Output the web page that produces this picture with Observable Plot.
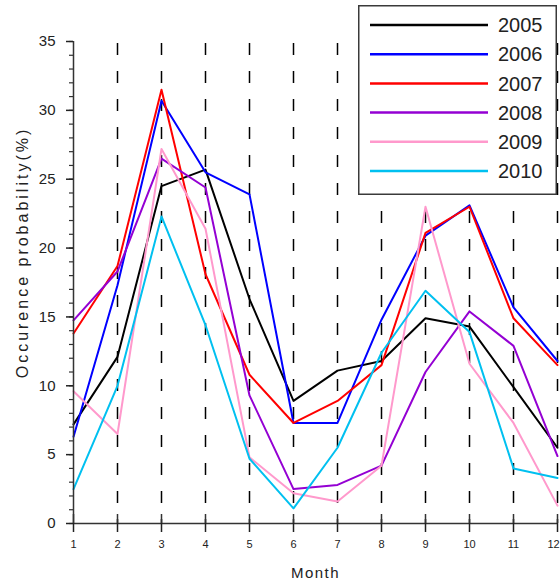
<!DOCTYPE html>
<html>
<head>
<meta charset="utf-8">
<script src="https://cdn.jsdelivr.net/npm/d3@7"></script>
<script src="https://cdn.jsdelivr.net/npm/@observablehq/plot@0.6"></script>
<style>
  body { margin: 0; background: #fff; font-family: "Liberation Sans", Arial, sans-serif; }
  #wrap { position: relative; width: 560px; height: 585px; }
  #legend { position: absolute; left: 358px; top: 5px; }
</style>
</head>
<body>
<div id="wrap"></div>
<script>
// ---- data ----
const months = [1, 2, 3, 4, 5, 6, 7, 8, 9, 10, 11, 12];
const years = ["2005", "2006", "2007", "2008", "2009", "2010"];
const colors = ["#000000", "#0000ff", "#ff0000", "#9400d3", "#ff99cc", "#00c0f0"];
const y2005 = [7.2, 12.1, 24.5, 25.7, 16.3, 8.9, 11.1, 11.8, 14.9, 14.3, 9.9, 5.5];
const y2006 = [6.3, 17.3, 30.7, 25.5, 23.9, 7.3, 7.3, 14.8, 20.9, 23.1, 15.7, 11.8];
const y2007 = [13.8, 18.7, 31.5, 18.1, 10.8, 7.3, 8.9, 11.5, 21.1, 23.0, 14.9, 11.5];
const y2008 = [14.75, 18.3, 26.5, 24.4, 9.3, 2.5, 2.8, 4.2, 11.0, 15.4, 12.9, 4.9];
const y2009 = [9.6, 6.5, 27.2, 21.4, 4.8, 2.2, 1.6, 4.2, 23.0, 11.6, 7.3, 1.3];
const y2010 = [2.5, 10.0, 22.3, 14.4, 4.7, 1.1, 5.5, 12.4, 16.9, 13.9, 4.0, 3.3];
const seriesValues = [y2005, y2006, y2007, y2008, y2009, y2010];
const yMajorTicks = [0, 5, 10, 15, 20, 25, 30, 35];
const yMinorTicks = d3.range(0, 36);
const xTitle = "Month";
const yTitle = "Occurence probability(%)";

const rows = years.flatMap((yr, i) => months.map((m, j) => ({year: yr, month: m, value: seriesValues[i][j]})));

const font = "Liberation Sans, Arial, sans-serif";
const chart = Plot.plot({
  width: 560,
  height: 585,
  marginLeft: 73,
  marginRight: 3,
  marginTop: 41,
  marginBottom: 62,
  x: {domain: [1, 12], axis: null},
  y: {domain: [0, 35], axis: null},
  color: {domain: years, range: colors},
  style: {fontFamily: font, background: "transparent", overflow: "visible"},
  marks: [
    Plot.ruleX(months.slice(1), {y1: 35, y2: 0, stroke: "#000", strokeWidth: 1.5, strokeDasharray: "12,16", strokeDashoffset: -2}),
    Plot.lineY(rows, {x: "month", y: "value", z: "year", stroke: "year", strokeWidth: 2}),
    Plot.ruleY([0], {stroke: "#333", strokeWidth: 1.5}),
    Plot.ruleX([1], {stroke: "#333", strokeWidth: 1.5}),
    Plot.ruleX(months, {y1: 0, y2: 0, insetTop: -9, insetBottom: 0, stroke: "#333", strokeWidth: 1.5}),
    Plot.axisX({ticks: months, tickSize: 9, tickPadding: 8, fontSize: 11, color: "#222", strokeWidth: 1.5, tickFormat: d => String(d), label: null}),
    Plot.axisY({ticks: yMinorTicks, tickSize: 4, tickFormat: () => "", color: "#333", strokeWidth: 1.2, label: null}),
    Plot.axisY({ticks: yMajorTicks, tickSize: 7, tickPadding: 11, fontSize: 15, color: "#222", strokeWidth: 1.5, tickFormat: d => String(d), label: null}),
    Plot.text([yTitle], {frameAnchor: "left", dx: -51, dy: -30, rotate: -90, textAnchor: "middle", lineAnchor: "middle", fontSize: 16, fill: "#222"}),
    Plot.text([xTitle], {frameAnchor: "bottom", dy: 50, textAnchor: "middle", lineAnchor: "middle", fontSize: 15, fill: "#222"})
  ]
});
document.getElementById("wrap").appendChild(chart);
d3.select(chart).selectAll("text").filter(function() { return this.textContent === xTitle; }).style("letter-spacing", "1.5px");
d3.select(chart).selectAll("text").filter(function() { return this.textContent === yTitle; }).style("letter-spacing", "3px");
// keep the last month label inside the picture
d3.select(chart).selectAll("text").filter(function() { return this.textContent === "12"; }).attr("dx", -4);

// ---- legend ----
const lw = 199, lh = 190;
const leg = d3.select("#wrap").append("svg").attr("id", "legend").attr("width", lw).attr("height", lh);
leg.append("rect").attr("x", 0.75).attr("y", 0.75).attr("width", lw - 1.5).attr("height", lh - 1.5)
  .attr("fill", "#fff").attr("stroke", "#3a3a3a").attr("stroke-width", 1.5);
const rowY = d3.scalePoint().domain(years).range([20, 166]);
const g = leg.selectAll("g").data(years).join("g").attr("transform", d => `translate(0,${rowY(d)})`);
g.append("line").attr("x1", 12).attr("x2", 130).attr("stroke", (d, i) => colors[i]).attr("stroke-width", 2.5);
g.append("text").attr("x", 140).attr("dy", "0.36em").attr("font-size", 20).attr("font-family", font).attr("fill", "#222").text(d => d);
</script>
</body>
</html>
